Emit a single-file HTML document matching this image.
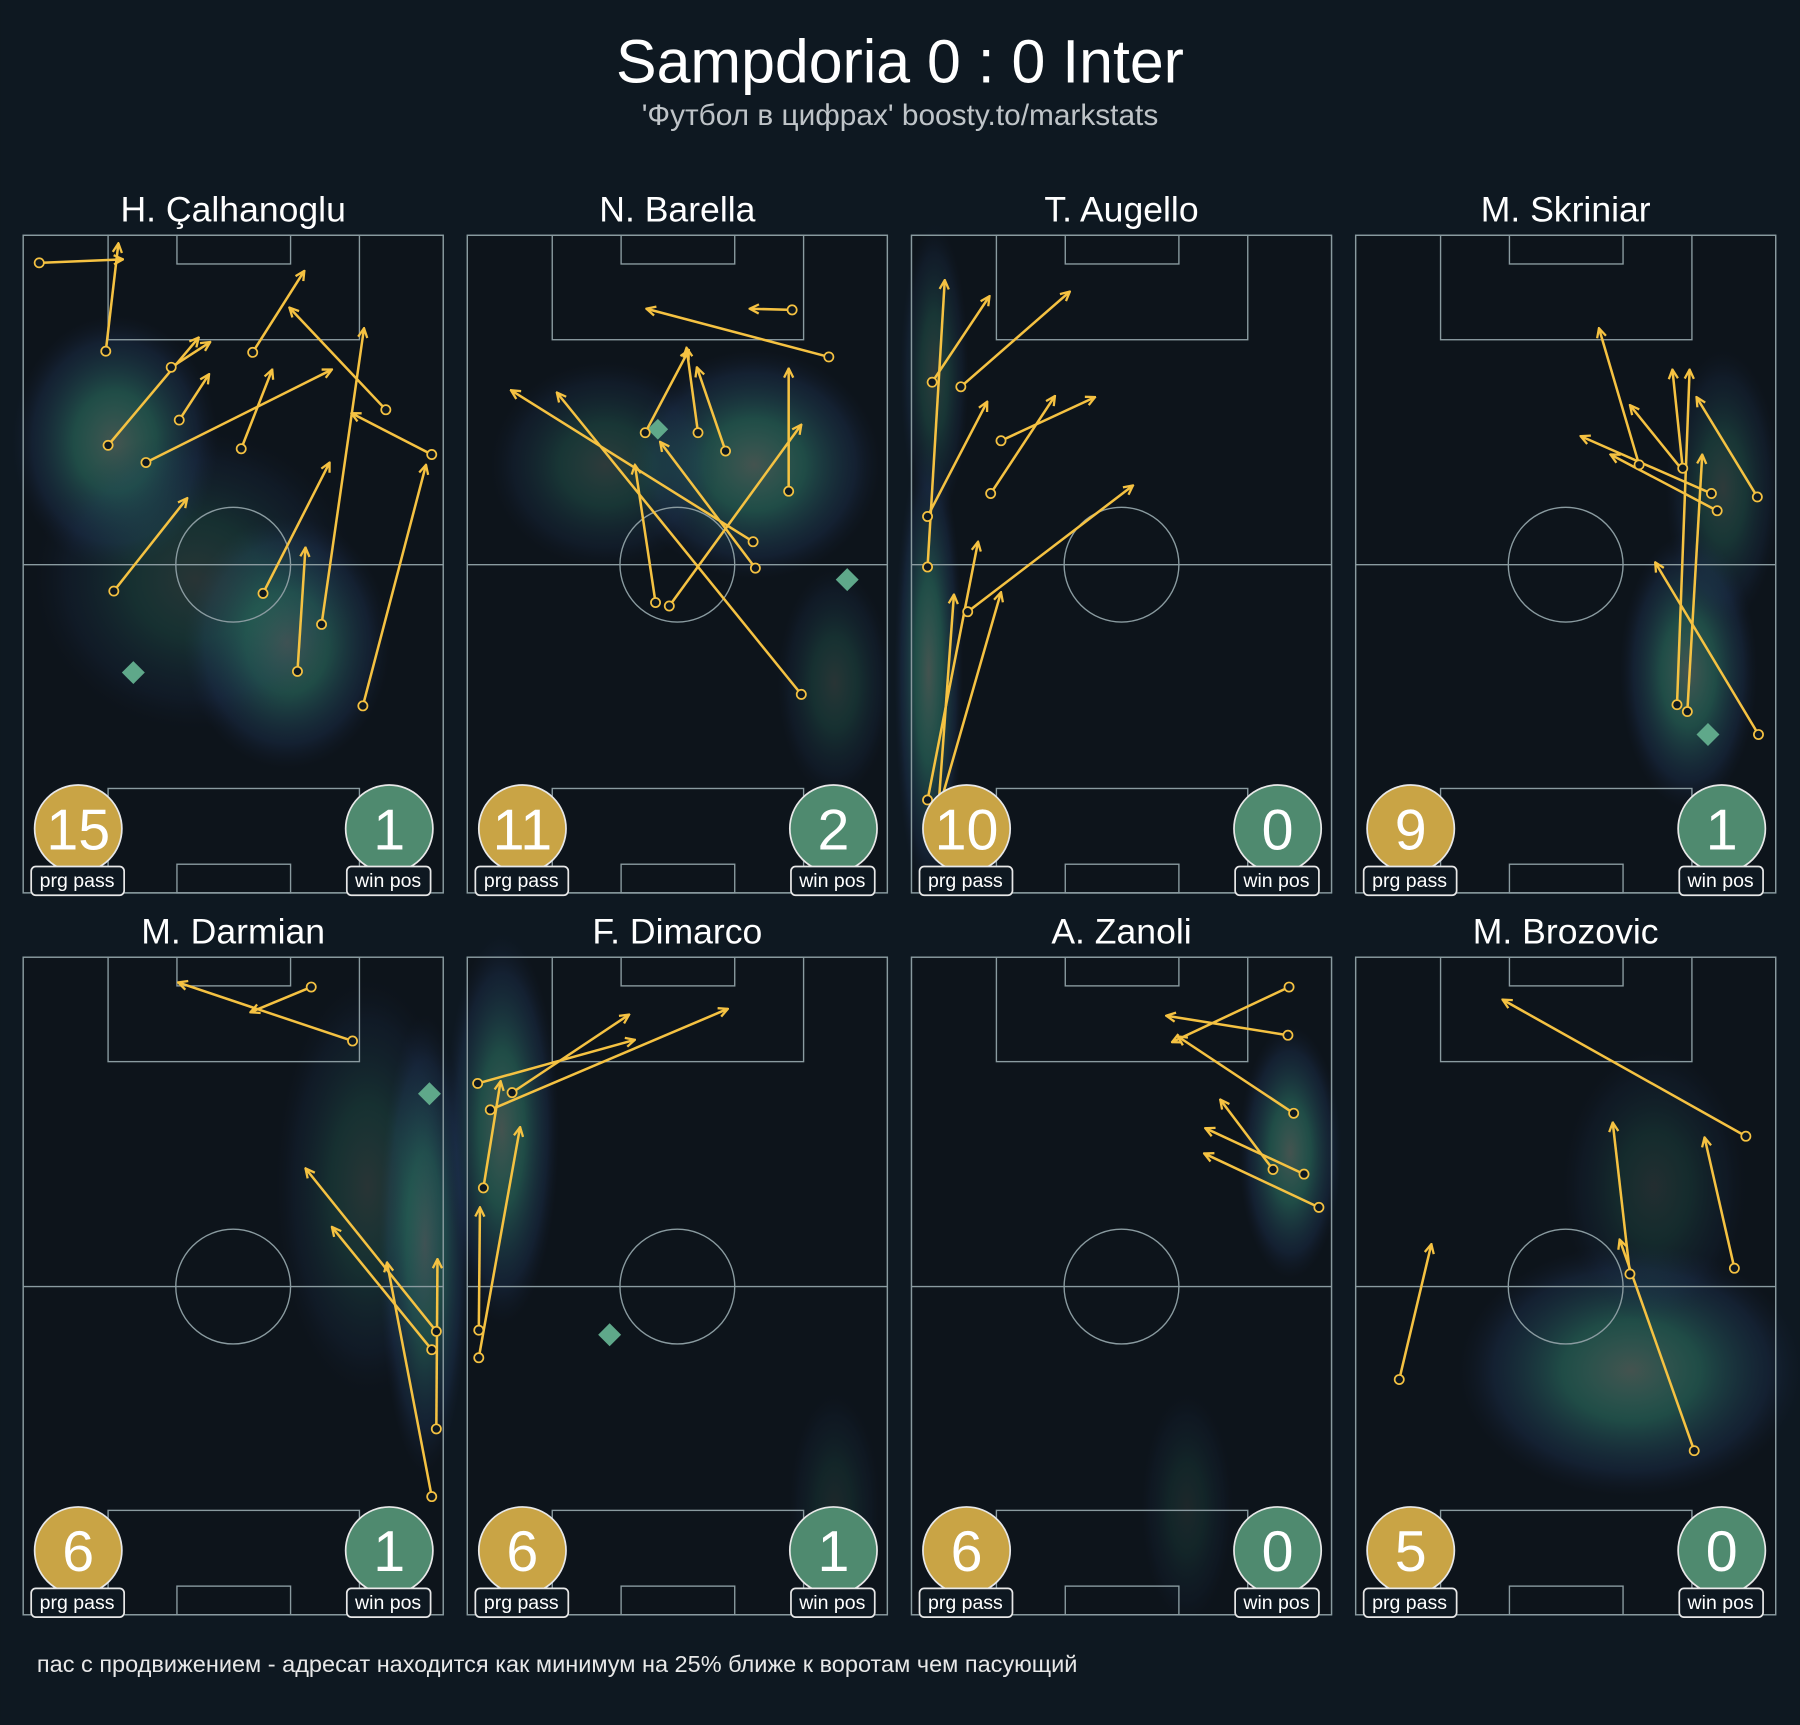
<!DOCTYPE html>
<html><head><meta charset="utf-8"><style>
html,body{margin:0;padding:0;background:#0e1821;}
svg{display:block}
text{font-family:"Liberation Sans",sans-serif}
</style></head><body>
<svg width="1800" height="1725" viewBox="0 0 1568 1503" xmlns="http://www.w3.org/2000/svg">
<defs>
<marker id="ah" viewBox="0 0 10 10" refX="9" refY="5" markerWidth="10" markerHeight="10" markerUnits="userSpaceOnUse" orient="auto">
<path d="M1,1 L9,5 L1,9" fill="none" stroke="#f5c242" stroke-width="2"/>
</marker>
<radialGradient id="hm"><stop offset="0" stop-color="#4a5a55" stop-opacity="0.9"/><stop offset="0.4" stop-color="#2f7a6a" stop-opacity="0.55"/><stop offset="0.8" stop-color="#243e66" stop-opacity="0.3"/><stop offset="1" stop-color="#1a2440" stop-opacity="0"/></radialGradient>
<g id="pitch">
<rect x="0" y="0" width="366" height="573" fill="#0d141b" stroke="#8a9ba0" stroke-width="1"/>
</g>
<g id="lines" fill="none" stroke="#8a9ba0" stroke-width="1.2">
<rect x="0" y="0" width="366" height="573"/>
<rect x="74" y="0" width="219" height="91"/>
<rect x="134" y="0" width="99" height="25"/>
<rect x="74" y="482" width="219" height="91"/>
<rect x="134" y="548" width="99" height="25"/>
<line x1="0" y1="287" x2="366" y2="287"/>
<circle cx="183" cy="287" r="50"/>
</g>
</defs>
<rect width="1568" height="1503" fill="#0e1821"/>
<text x="784" y="72" fill="#fff" font-size="53" text-anchor="middle">Sampdoria 0 : 0 Inter</text>
<text x="784" y="109" fill="#bfc4c8" font-size="26" text-anchor="middle">'Футбол в цифрах' boosty.to/markstats</text>

<g transform="translate(20,205)"><use href="#pitch"/><ellipse cx="80" cy="180" rx="90" ry="110" fill="url(#hm)"/><ellipse cx="230" cy="355" rx="90" ry="110" fill="url(#hm)"/><ellipse cx="150" cy="300" rx="140" ry="130" fill="url(#hm)" opacity="0.5"/><use href="#lines"/></g>
<g transform="translate(407,205)"><use href="#pitch"/><ellipse cx="250" cy="200" rx="110" ry="100" fill="url(#hm)"/><ellipse cx="120" cy="200" rx="100" ry="90" fill="url(#hm)" opacity="0.6"/><ellipse cx="320" cy="390" rx="50" ry="100" fill="url(#hm)" opacity="0.5"/><use href="#lines"/></g>
<g transform="translate(794,205)"><use href="#pitch"/><ellipse cx="15" cy="380" rx="30" ry="200" fill="url(#hm)"/><ellipse cx="20" cy="120" rx="30" ry="130" fill="url(#hm)" opacity="0.6"/><use href="#lines"/></g>
<g transform="translate(1181,205)"><use href="#pitch"/><ellipse cx="290" cy="380" rx="60" ry="120" fill="url(#hm)"/><ellipse cx="320" cy="220" rx="50" ry="120" fill="url(#hm)" opacity="0.6"/><use href="#lines"/></g>
<g transform="translate(20,834)"><use href="#pitch"/><ellipse cx="350" cy="250" rx="40" ry="200" fill="url(#hm)"/><ellipse cx="300" cy="200" rx="80" ry="180" fill="url(#hm)" opacity="0.5"/><use href="#lines"/></g>
<g transform="translate(407,834)"><use href="#pitch"/><ellipse cx="30" cy="150" rx="50" ry="170" fill="url(#hm)"/><ellipse cx="320" cy="480" rx="40" ry="100" fill="url(#hm)" opacity="0.3"/><use href="#lines"/></g>
<g transform="translate(794,834)"><use href="#pitch"/><ellipse cx="330" cy="170" rx="45" ry="110" fill="url(#hm)"/><ellipse cx="240" cy="480" rx="40" ry="100" fill="url(#hm)" opacity="0.3"/><use href="#lines"/></g>
<g transform="translate(1181,834)"><use href="#pitch"/><ellipse cx="240" cy="360" rx="150" ry="110" fill="url(#hm)"/><ellipse cx="260" cy="200" rx="80" ry="120" fill="url(#hm)" opacity="0.4"/><use href="#lines"/></g>

<g fill="#fff" font-size="31" text-anchor="middle">
<text x="203" y="193">H. Çalhanoglu</text><text x="590" y="193">N. Barella</text><text x="977" y="193">T. Augello</text><text x="1364" y="193">M. Skriniar</text>
<text x="203" y="822">M. Darmian</text><text x="590" y="822">F. Dimarco</text><text x="977" y="822">A. Zanoli</text><text x="1364" y="822">M. Brozovic</text>
</g>

<g fill="#5fa88a"><path d="M116,576l10,10l-10,10l-10,-10z"/><path d="M738,495l10,10l-10,10l-10,-10z"/><path d="M573,365l9,9l-9,9l-9,-9z"/><path d="M1488,630l10,10l-10,10l-10,-10z"/><path d="M374,943l10,10l-10,10l-10,-10z"/><path d="M531,1153l10,10l-10,10l-10,-10z"/></g>

<g stroke="#f5c242" stroke-width="2.2" fill="none" marker-end="url(#ah)">
<line x1="34" y1="229" x2="107" y2="226"/><line x1="92" y1="306" x2="103" y2="212"/><line x1="94" y1="388" x2="173" y2="294"/><line x1="149" y1="320" x2="183" y2="298"/><line x1="156" y1="366" x2="182" y2="326"/><line x1="220" y1="307" x2="265" y2="236"/><line x1="210" y1="391" x2="237" y2="322"/><line x1="127" y1="403" x2="289" y2="322"/><line x1="336" y1="357" x2="252" y2="268"/><line x1="376" y1="396" x2="306" y2="360"/><line x1="99" y1="515" x2="163" y2="434"/><line x1="229" y1="517" x2="287" y2="403"/><line x1="280" y1="544" x2="317" y2="286"/><line x1="259" y1="585" x2="266" y2="477"/><line x1="316" y1="615" x2="371" y2="405"/>
<line x1="690" y1="270" x2="653" y2="269"/><line x1="722" y1="311" x2="563" y2="269"/><line x1="562" y1="377" x2="600" y2="305"/><line x1="608" y1="377" x2="598" y2="303"/><line x1="632" y1="393" x2="607" y2="320"/><line x1="687" y1="428" x2="687" y2="321"/><line x1="656" y1="472" x2="445" y2="340"/><line x1="658" y1="495" x2="575" y2="385"/><line x1="571" y1="525" x2="553" y2="405"/><line x1="583" y1="528" x2="698" y2="370"/><line x1="698" y1="605" x2="485" y2="342"/>
<line x1="808" y1="494" x2="823" y2="244"/><line x1="812" y1="333" x2="862" y2="258"/><line x1="837" y1="337" x2="932" y2="254"/><line x1="808" y1="450" x2="860" y2="350"/><line x1="872" y1="384" x2="954" y2="346"/><line x1="863" y1="430" x2="919" y2="345"/><line x1="843" y1="533" x2="987" y2="423"/><line x1="808" y1="697" x2="852" y2="472"/><line x1="817" y1="710" x2="831" y2="518"/><line x1="820" y1="697" x2="872" y2="516"/>
<line x1="1428" y1="405" x2="1393" y2="286"/><line x1="1466" y1="408" x2="1457" y2="322"/><line x1="1491" y1="430" x2="1377" y2="380"/><line x1="1496" y1="445" x2="1403" y2="396"/><line x1="1531" y1="433" x2="1478" y2="346"/><line x1="1466" y1="410" x2="1420" y2="353"/><line x1="1461" y1="614" x2="1472" y2="322"/><line x1="1470" y1="620" x2="1483" y2="396"/><line x1="1532" y1="640" x2="1442" y2="490"/>
<line x1="271" y1="860" x2="218" y2="882"/><line x1="307" y1="907" x2="155" y2="856"/><line x1="380" y1="1160" x2="266" y2="1018"/><line x1="376" y1="1176" x2="289" y2="1069"/><line x1="380" y1="1245" x2="381" y2="1097"/><line x1="376" y1="1304" x2="337" y2="1100"/>
<line x1="416" y1="944" x2="553" y2="906"/><line x1="446" y1="952" x2="548" y2="884"/><line x1="427" y1="967" x2="634" y2="879"/><line x1="421" y1="1035" x2="436" y2="942"/><line x1="417" y1="1159" x2="418" y2="1052"/><line x1="417" y1="1183" x2="453" y2="982"/>
<line x1="1123" y1="860" x2="1021" y2="908"/><line x1="1122" y1="902" x2="1016" y2="885"/><line x1="1127" y1="970" x2="1026" y2="903"/><line x1="1109" y1="1019" x2="1063" y2="958"/><line x1="1136" y1="1023" x2="1050" y2="983"/><line x1="1149" y1="1052" x2="1049" y2="1005"/>
<line x1="1521" y1="990" x2="1309" y2="871"/><line x1="1511" y1="1105" x2="1485" y2="991"/><line x1="1420" y1="1110" x2="1405" y2="978"/><line x1="1476" y1="1264" x2="1411" y2="1080"/><line x1="1219" y1="1202" x2="1247" y2="1084"/>
</g>
<g stroke="#f5c242" stroke-width="1.5" fill="#0e1821">
<circle cx="34" cy="229" r="4"/><circle cx="92" cy="306" r="4"/><circle cx="94" cy="388" r="4"/><circle cx="149" cy="320" r="4"/><circle cx="156" cy="366" r="4"/><circle cx="220" cy="307" r="4"/><circle cx="210" cy="391" r="4"/><circle cx="127" cy="403" r="4"/><circle cx="336" cy="357" r="4"/><circle cx="376" cy="396" r="4"/><circle cx="99" cy="515" r="4"/><circle cx="229" cy="517" r="4"/><circle cx="280" cy="544" r="4"/><circle cx="259" cy="585" r="4"/><circle cx="316" cy="615" r="4"/>
<circle cx="690" cy="270" r="4"/><circle cx="722" cy="311" r="4"/><circle cx="562" cy="377" r="4"/><circle cx="608" cy="377" r="4"/><circle cx="632" cy="393" r="4"/><circle cx="687" cy="428" r="4"/><circle cx="656" cy="472" r="4"/><circle cx="658" cy="495" r="4"/><circle cx="571" cy="525" r="4"/><circle cx="583" cy="528" r="4"/><circle cx="698" cy="605" r="4"/>
<circle cx="808" cy="494" r="4"/><circle cx="812" cy="333" r="4"/><circle cx="837" cy="337" r="4"/><circle cx="808" cy="450" r="4"/><circle cx="872" cy="384" r="4"/><circle cx="863" cy="430" r="4"/><circle cx="843" cy="533" r="4"/><circle cx="808" cy="697" r="4"/><circle cx="817" cy="710" r="4"/><circle cx="820" cy="697" r="4"/>
<circle cx="1428" cy="405" r="4"/><circle cx="1466" cy="408" r="4"/><circle cx="1491" cy="430" r="4"/><circle cx="1496" cy="445" r="4"/><circle cx="1531" cy="433" r="4"/><circle cx="1461" cy="614" r="4"/><circle cx="1470" cy="620" r="4"/><circle cx="1532" cy="640" r="4"/>
<circle cx="271" cy="860" r="4"/><circle cx="307" cy="907" r="4"/><circle cx="380" cy="1160" r="4"/><circle cx="376" cy="1176" r="4"/><circle cx="380" cy="1245" r="4"/><circle cx="376" cy="1304" r="4"/>
<circle cx="416" cy="944" r="4"/><circle cx="446" cy="952" r="4"/><circle cx="427" cy="967" r="4"/><circle cx="421" cy="1035" r="4"/><circle cx="417" cy="1159" r="4"/><circle cx="417" cy="1183" r="4"/>
<circle cx="1123" cy="860" r="4"/><circle cx="1122" cy="902" r="4"/><circle cx="1127" cy="970" r="4"/><circle cx="1109" cy="1019" r="4"/><circle cx="1136" cy="1023" r="4"/><circle cx="1149" cy="1052" r="4"/>
<circle cx="1521" cy="990" r="4"/><circle cx="1511" cy="1105" r="4"/><circle cx="1420" cy="1110" r="4"/><circle cx="1476" cy="1264" r="4"/><circle cx="1219" cy="1202" r="4"/>
</g>

<g>
<g stroke="#e8e8e8" stroke-width="1.5">
<circle cx="68" cy="722" r="38" fill="#c9a445"/><circle cx="339" cy="722" r="38" fill="#4f8a6f"/>
<circle cx="455" cy="722" r="38" fill="#c9a445"/><circle cx="726" cy="722" r="38" fill="#4f8a6f"/>
<circle cx="842" cy="722" r="38" fill="#c9a445"/><circle cx="1113" cy="722" r="38" fill="#4f8a6f"/>
<circle cx="1229" cy="722" r="38" fill="#c9a445"/><circle cx="1500" cy="722" r="38" fill="#4f8a6f"/>
<circle cx="68" cy="1351" r="38" fill="#c9a445"/><circle cx="339" cy="1351" r="38" fill="#4f8a6f"/>
<circle cx="455" cy="1351" r="38" fill="#c9a445"/><circle cx="726" cy="1351" r="38" fill="#4f8a6f"/>
<circle cx="842" cy="1351" r="38" fill="#c9a445"/><circle cx="1113" cy="1351" r="38" fill="#4f8a6f"/>
<circle cx="1229" cy="1351" r="38" fill="#c9a445"/><circle cx="1500" cy="1351" r="38" fill="#4f8a6f"/>
</g>
<g fill="#fff" font-size="50" text-anchor="middle">
<text x="68" y="740">15</text><text x="339" y="740">1</text><text x="455" y="740">11</text><text x="726" y="740">2</text><text x="842" y="740">10</text><text x="1113" y="740">0</text><text x="1229" y="740">9</text><text x="1500" y="740">1</text>
<text x="68" y="1369">6</text><text x="339" y="1369">1</text><text x="455" y="1369">6</text><text x="726" y="1369">1</text><text x="842" y="1369">6</text><text x="1113" y="1369">0</text><text x="1229" y="1369">5</text><text x="1500" y="1369">0</text>
</g>
<g fill="#0e1821" stroke="#e8e8e8" stroke-width="1.5">
<rect x="27" y="755" width="81" height="25" rx="4"/><rect x="302" y="755" width="73" height="25" rx="4"/>
<rect x="414" y="755" width="81" height="25" rx="4"/><rect x="689" y="755" width="73" height="25" rx="4"/>
<rect x="801" y="755" width="81" height="25" rx="4"/><rect x="1076" y="755" width="73" height="25" rx="4"/>
<rect x="1188" y="755" width="81" height="25" rx="4"/><rect x="1463" y="755" width="73" height="25" rx="4"/>
<rect x="27" y="1384" width="81" height="25" rx="4"/><rect x="302" y="1384" width="73" height="25" rx="4"/>
<rect x="414" y="1384" width="81" height="25" rx="4"/><rect x="689" y="1384" width="73" height="25" rx="4"/>
<rect x="801" y="1384" width="81" height="25" rx="4"/><rect x="1076" y="1384" width="73" height="25" rx="4"/>
<rect x="1188" y="1384" width="81" height="25" rx="4"/><rect x="1463" y="1384" width="73" height="25" rx="4"/>
</g>
<g fill="#fff" font-size="17" text-anchor="middle">
<text x="67" y="773">prg pass</text><text x="338" y="773">win pos</text><text x="454" y="773">prg pass</text><text x="725" y="773">win pos</text><text x="841" y="773">prg pass</text><text x="1112" y="773">win pos</text><text x="1228" y="773">prg pass</text><text x="1499" y="773">win pos</text>
<text x="67" y="1402">prg pass</text><text x="338" y="1402">win pos</text><text x="454" y="1402">prg pass</text><text x="725" y="1402">win pos</text><text x="841" y="1402">prg pass</text><text x="1112" y="1402">win pos</text><text x="1228" y="1402">prg pass</text><text x="1499" y="1402">win pos</text>
</g>
</g>
<text x="32" y="1457" fill="#e8e8e8" font-size="20.5">пас с продвижением - адресат находится как минимум на 25% ближе к воротам чем пасующий</text>
</svg>
</body></html>
